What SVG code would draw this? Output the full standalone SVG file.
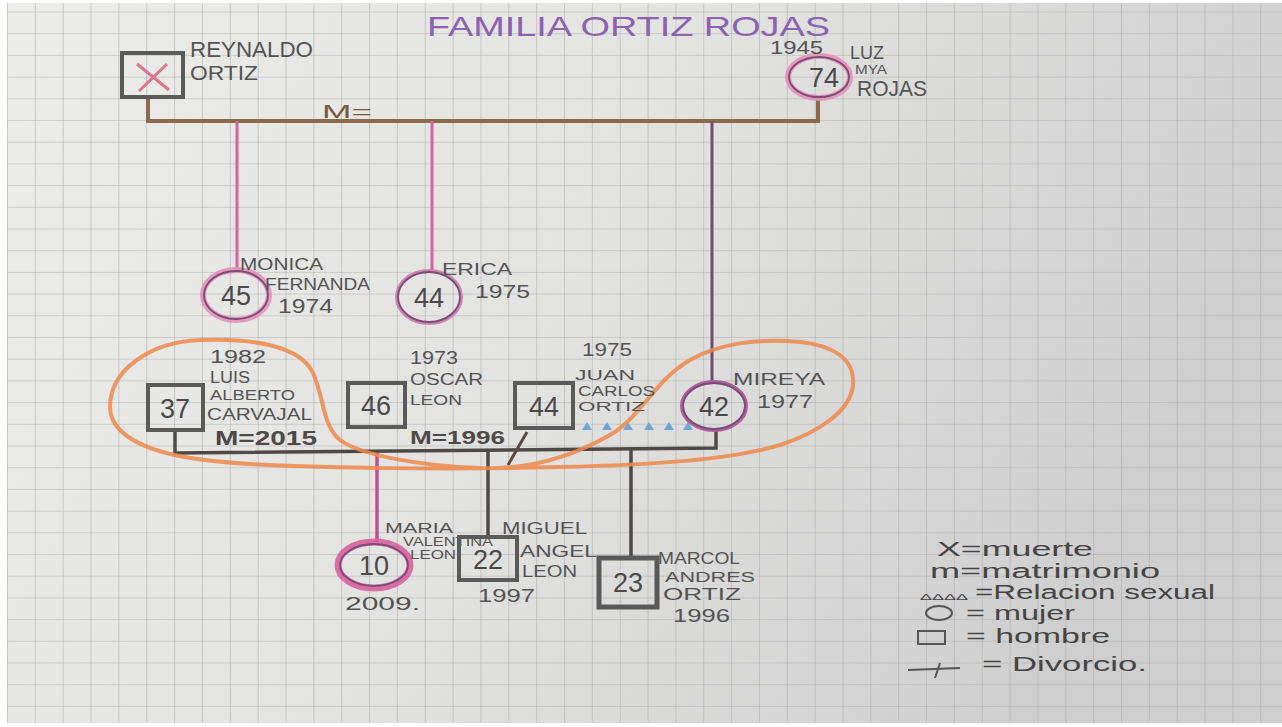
<svg xmlns="http://www.w3.org/2000/svg" width="1282" height="727" viewBox="0 0 1282 727">
<style>
  text { font-family: "Liberation Sans", "DejaVu Sans", sans-serif; fill: #545454; }
  .num { font-size: 27px; text-anchor: middle; fill: #4a4a4a; }
  .title { font-size: 28px; fill: #8c62b2; }
  .leg { font-size: 20px; fill: #454545; }
  .sq { fill: none; stroke: #5a5a5a; stroke-width: 4; }
  .cpink { fill: none; stroke: #e690b6; stroke-width: 6; opacity: 0.9; }
  .cin { fill: none; stroke: #7a4d78; stroke-width: 1.8; }
  .brown { fill: none; stroke: #8b6b4e; stroke-width: 4; }
  .pinkline { fill: none; stroke: #d8649c; stroke-width: 3; }
  .dark { fill: none; stroke: #4e4a48; stroke-width: 3.5; }
  .tri { fill: #6fa6d6; }
</style>
<defs>
  <linearGradient id="paper" x1="0" y1="0" x2="1" y2="0.3">
    <stop offset="0" stop-color="#ececea"/>
    <stop offset="0.5" stop-color="#e3e3e2"/>
    <stop offset="1" stop-color="#cfcfcf"/>
  </linearGradient>
  <pattern id="grid" patternUnits="userSpaceOnUse" x="7" y="11.5" width="27.85" height="21.7">
    <path d="M0,0 H27.85 M0,0 V21.7" stroke="#b0b0b0" stroke-width="1.2" fill="none"/>
  </pattern>
</defs>
<rect x="0" y="0" width="1282" height="727" fill="#ffffff"/>
<rect x="7" y="3" width="1275" height="720" fill="url(#paper)"/>
<rect x="7" y="3" width="1275" height="720" fill="url(#grid)"/>

<text class="title" x="427" y="36" textLength="403" lengthAdjust="spacingAndGlyphs">FAMILIA ORTIZ ROJAS</text>

<g id="connectors">
  <path class="brown" d="M148,97 V121 H818 V98"/>
  <text x="322" y="118" font-size="19" textLength="50" lengthAdjust="spacingAndGlyphs" style="fill:#7a5a3e">M=</text>
  <path class="pinkline" d="M237,121 V270"/>
  <path class="pinkline" d="M432,121 V270"/>
  <path fill="none" stroke="#6e4f70" stroke-width="3" d="M712,121 V382"/>
  <path class="dark" d="M175,430 V453 L716,448 V430" stroke="#5a5048" stroke-width="4"/>
  <path fill="none" stroke="#c0508e" stroke-width="3.5" d="M377,453 V542"/>
  <path class="dark" d="M488,452 V537"/>
  <path class="dark" d="M631,449 V558" stroke-width="4.5"/>
  <path fill="none" stroke="#5a4a40" stroke-width="3" d="M527,432 L508,465"/>
  <g id="relacion">
    <polygon class="tri" points="582,430 587,422 592,430"/>
    <polygon class="tri" points="602,430 607,422 612,430"/>
    <polygon class="tri" points="623,430 628,422 633,430"/>
    <polygon class="tri" points="644,430 649,422 654,430"/>
    <polygon class="tri" points="664,430 669,422 674,430"/>
    <polygon class="tri" points="683,430 688,422 693,430"/>
  </g>
  <path fill="none" stroke="#f0884a" stroke-width="4" opacity="0.85" d="M110,407 C110,370 150,342 200,340 C250,338 300,345 313,373 C325,400 322,425 340,440 C360,455 420,466 480,468 C530,470 575,455 610,435 C640,418 655,380 690,360 C720,343 760,338 800,342 C835,346 855,360 853,385 C851,410 820,432 780,445 C730,460 650,465 560,467 C450,470 330,468 250,464 C180,460 140,450 120,430 C112,422 110,415 110,407 Z"/>
  <text x="215" y="445" font-size="21" textLength="102" lengthAdjust="spacingAndGlyphs" style="fill:#4e4a48;font-weight:bold">M=2015</text>
  <text x="410" y="444" font-size="19" textLength="95" lengthAdjust="spacingAndGlyphs" style="fill:#4e4a48;font-weight:bold">M=1996</text>
</g>

<g id="reynaldo">
  <rect class="sq" x="122" y="53" width="61" height="44"/>
  <path d="M137,64 L169,90 M167,64 L139,91" stroke="#e07488" stroke-width="3" fill="none"/>
  <text x="190" y="57" font-size="22" textLength="123" lengthAdjust="spacingAndGlyphs">REYNALDO</text>
  <text x="190" y="80" font-size="20" textLength="68" lengthAdjust="spacingAndGlyphs">ORTIZ</text>
</g>

<g id="luz">
  <ellipse class="cpink" cx="819" cy="77" rx="31" ry="21"/>
  <ellipse class="cin" cx="819" cy="77" rx="30" ry="20"/>
  <text class="num" x="824" y="87">74</text>
  <text x="770" y="54" font-size="19" textLength="53" lengthAdjust="spacingAndGlyphs">1945</text>
  <text x="850" y="59" font-size="19" textLength="34" lengthAdjust="spacingAndGlyphs">LUZ</text>
  <text x="855" y="74" font-size="12" textLength="32" lengthAdjust="spacingAndGlyphs">MYA</text>
  <text x="857" y="96" font-size="22" textLength="70" lengthAdjust="spacingAndGlyphs">ROJAS</text>
</g>

<g id="monica">
  <ellipse class="cpink" cx="236" cy="295" rx="33" ry="25"/>
  <ellipse class="cin" cx="236" cy="295" rx="32" ry="24"/>
  <text class="num" x="236" y="305">45</text>
  <text x="240" y="270" font-size="17" textLength="83" lengthAdjust="spacingAndGlyphs">MONICA</text>
  <text x="265" y="290" font-size="16" textLength="105" lengthAdjust="spacingAndGlyphs">FERNANDA</text>
  <text x="278" y="313" font-size="20" textLength="55" lengthAdjust="spacingAndGlyphs">1974</text>
</g>

<g id="erica">
  <ellipse class="cpink" cx="429" cy="297" rx="32" ry="26" style="stroke:#cc7aa6;stroke-width:4"/>
  <ellipse class="cin" cx="429" cy="297" rx="31" ry="25"/>
  <text class="num" x="429" y="307">44</text>
  <text x="442" y="275" font-size="17" textLength="70" lengthAdjust="spacingAndGlyphs">ERICA</text>
  <text x="475" y="298" font-size="19" textLength="55" lengthAdjust="spacingAndGlyphs">1975</text>
</g>

<g id="luis">
  <rect class="sq" x="148" y="385" width="55" height="45"/>
  <text class="num" x="175" y="418">37</text>
  <text x="210" y="363" font-size="18" textLength="56" lengthAdjust="spacingAndGlyphs">1982</text>
  <text x="210" y="383" font-size="16" textLength="40" lengthAdjust="spacingAndGlyphs">LUIS</text>
  <text x="210" y="400" font-size="14" textLength="85" lengthAdjust="spacingAndGlyphs">ALBERTO</text>
  <text x="207" y="420" font-size="16" textLength="105" lengthAdjust="spacingAndGlyphs">CARVAJAL</text>
</g>

<g id="oscar">
  <rect class="sq" x="348" y="383" width="57" height="44"/>
  <text class="num" x="376" y="415">46</text>
  <text x="410" y="364" font-size="18" textLength="48" lengthAdjust="spacingAndGlyphs">1973</text>
  <text x="410" y="385" font-size="17" textLength="73" lengthAdjust="spacingAndGlyphs">OSCAR</text>
  <text x="410" y="405" font-size="15" textLength="52" lengthAdjust="spacingAndGlyphs">LEON</text>
</g>

<g id="juancarlos">
  <rect class="sq" x="515" y="383" width="58" height="45"/>
  <text class="num" x="544" y="416">44</text>
  <text x="582" y="356" font-size="18" textLength="50" lengthAdjust="spacingAndGlyphs">1975</text>
  <text x="575" y="380" font-size="15" textLength="60" lengthAdjust="spacingAndGlyphs">JUAN</text>
  <text x="578" y="396" font-size="14" textLength="77" lengthAdjust="spacingAndGlyphs">CARLOS</text>
  <text x="578" y="411" font-size="13" textLength="67" lengthAdjust="spacingAndGlyphs">ORTIZ</text>
</g>

<g id="mireya">
  <ellipse fill="none" stroke="#b0609e" stroke-width="4" cx="714" cy="406" rx="32" ry="24"/>
  <ellipse class="cin" cx="714" cy="406" rx="31" ry="23"/>
  <text class="num" x="714" y="416">42</text>
  <text x="733" y="385" font-size="17" textLength="92" lengthAdjust="spacingAndGlyphs">MIREYA</text>
  <text x="757" y="408" font-size="19" textLength="56" lengthAdjust="spacingAndGlyphs">1977</text>
</g>

<g id="maria">
  <ellipse class="cpink" cx="374" cy="565" rx="36" ry="23" style="stroke:#d8609a;stroke-width:7"/>
  <ellipse class="cin" cx="374" cy="565" rx="34" ry="21"/>
  <text class="num" x="374" y="575">10</text>
  <text x="385" y="533" font-size="14" textLength="68" lengthAdjust="spacingAndGlyphs">MARIA</text>
  <text x="403" y="546" font-size="12" textLength="90" lengthAdjust="spacingAndGlyphs">VALENTINA</text>
  <text x="410" y="559" font-size="12" textLength="46" lengthAdjust="spacingAndGlyphs">LEON</text>
  <text x="345" y="610" font-size="19" textLength="75" lengthAdjust="spacingAndGlyphs">2009.</text>
</g>

<g id="miguel">
  <rect class="sq" x="459" y="537" width="58" height="43"/>
  <text class="num" x="488" y="569">22</text>
  <text x="502" y="534" font-size="17" textLength="85" lengthAdjust="spacingAndGlyphs">MIGUEL</text>
  <text x="520" y="557" font-size="17" textLength="77" lengthAdjust="spacingAndGlyphs">ANGEL</text>
  <text x="522" y="577" font-size="17" textLength="55" lengthAdjust="spacingAndGlyphs">LEON</text>
  <text x="478" y="602" font-size="19" textLength="57" lengthAdjust="spacingAndGlyphs">1997</text>
</g>

<g id="marcol">
  <rect class="sq" x="599" y="558" width="58" height="49" style="stroke-width:5"/>
  <text class="num" x="628" y="592">23</text>
  <text x="658" y="564" font-size="16" textLength="82" lengthAdjust="spacingAndGlyphs">MARCOL</text>
  <text x="665" y="582" font-size="15" textLength="90" lengthAdjust="spacingAndGlyphs">ANDRES</text>
  <text x="663" y="600" font-size="16" textLength="78" lengthAdjust="spacingAndGlyphs">ORTIZ</text>
  <text x="673" y="622" font-size="18" textLength="57" lengthAdjust="spacingAndGlyphs">1996</text>
</g>

<g id="legend">
  <text class="leg" x="937" y="556" font-size="20" textLength="156" lengthAdjust="spacingAndGlyphs">X=muerte</text>
  <text class="leg" x="930" y="578" font-size="17" textLength="230" lengthAdjust="spacingAndGlyphs">m=matrimonio</text>
  <text x="920" y="600" font-size="9" textLength="48" lengthAdjust="spacingAndGlyphs" style="fill:#454545">ΔΔΔΔ</text>
  <text class="leg" x="975" y="599" font-size="15" textLength="240" lengthAdjust="spacingAndGlyphs">=Relacion sexual</text>
  <ellipse cx="939" cy="613" rx="13" ry="7" fill="none" stroke="#555" stroke-width="2"/>
  <text class="leg" x="966" y="620" font-size="15" textLength="109" lengthAdjust="spacingAndGlyphs">= mujer</text>
  <rect x="918" y="631" width="27" height="13" fill="none" stroke="#555" stroke-width="2"/>
  <text class="leg" x="966" y="643" font-size="17" textLength="144" lengthAdjust="spacingAndGlyphs">= hombre</text>
  <path d="M908,670 L960,668 M940,663 L935,678" stroke="#555" stroke-width="2" fill="none"/>
  <text class="leg" x="982" y="671" font-size="19" textLength="165" lengthAdjust="spacingAndGlyphs">= Divorcio.</text>
</g>
</svg>
